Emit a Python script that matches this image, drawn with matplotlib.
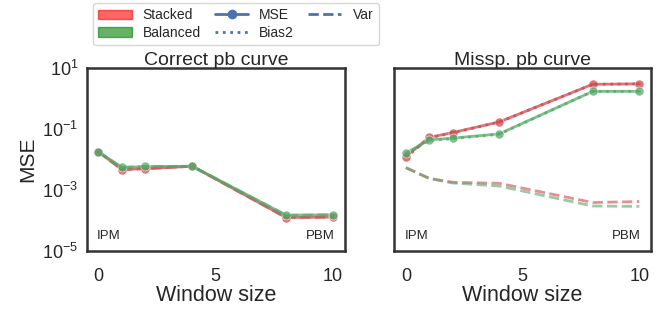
import matplotlib
matplotlib.use('Agg')
import matplotlib.pyplot as plt
import seaborn as sns
from matplotlib.patches import Patch
from matplotlib.lines import Line2D

window = [0, 1, 2, 4, 8, 10]

# correct pb curve
corr_mse_stacked = [0.0178, 0.0047, 0.0050, 0.0060, 1.26e-4, 1.30e-4]
corr_mse_balanced = [0.0178, 0.0055, 0.0059, 0.0060, 1.50e-4, 1.55e-4]
corr_bias_stacked = [1e-7, 1e-7, 1e-7, 1e-7, 1e-7, 1e-7]
corr_bias_balanced = [1e-7, 1e-7, 1e-7, 1e-7, 1e-7, 1e-7]
corr_var_stacked = [0.0177, 0.0047, 0.0050, 0.0060, 1.25e-4, 1.29e-4]
corr_var_balanced = [0.0177, 0.0055, 0.0059, 0.0060, 1.49e-4, 1.54e-4]

# misspecified pb curve
miss_mse_stacked = [0.0125, 0.053, 0.076, 0.17, 2.9, 3.0]
miss_mse_balanced = [0.016, 0.044, 0.050, 0.069, 1.7, 1.7]
miss_bias_stacked = [0.0115, 0.051, 0.074, 0.168, 2.9, 3.0]
miss_bias_balanced = [0.0150, 0.042, 0.048, 0.067, 1.7, 1.7]
miss_var_stacked = [0.0054, 0.0024, 0.0018, 0.00166, 3.9e-4, 4.2e-4]
miss_var_balanced = [0.0054, 0.0024, 0.0017, 0.00135, 3.0e-4, 2.9e-4]

sns.set_theme(style='white')
plt.rcParams['font.family'] = ['Liberation Sans', 'DejaVu Sans']

red = '#d0474e'
green = '#55a868'

fig = plt.figure(figsize=(6.67, 3.1), dpi=100)
ax1 = fig.add_axes([0.130, 0.190, 0.387, 0.591])
ax2 = fig.add_axes([0.591, 0.190, 0.385, 0.591], sharey=ax1)


def plot_panel(ax, mse, bias, var, title):
    for (m, b, v), c in zip(zip(mse, bias, var), [red, green]):
        ax.plot(window, m, '-o', color=c, alpha=0.75, lw=2, markersize=6.5,
                markeredgecolor='white', markeredgewidth=0.5)
        ax.plot(window, b, ':', color=c, alpha=0.75, lw=2)
        ax.plot(window, v, '--', color=c, alpha=0.6, lw=2)
    ax.set_yscale('log')
    ax.set_ylim(1e-5, 1e1)
    ax.set_yticks([1e-5, 1e-3, 1e-1, 1e1])
    ax.minorticks_off()
    ax.set_xlim(-0.5, 10.5)
    ax.set_xticks([0, 5, 10])
    ax.set_title(title, fontsize=14, pad=2)
    ax.set_xlabel('Window size', fontsize=15.5, labelpad=0)
    ax.tick_params(labelsize=13, length=0)
    ax.tick_params(axis='x', pad=12)
    ax.tick_params(axis='y', pad=6)
    ax.text(0.04, 0.05, 'IPM', transform=ax.transAxes, fontsize=9.5,
            ha='left', va='bottom', color='.15')
    ax.text(0.96, 0.05, 'PBM', transform=ax.transAxes, fontsize=9.5,
            ha='right', va='bottom', color='.15')
    for s in ax.spines.values():
        s.set_linewidth(1.8)
        s.set_color('.2')


plot_panel(ax1, [corr_mse_stacked, corr_mse_balanced],
           [corr_bias_stacked, corr_bias_balanced],
           [corr_var_stacked, corr_var_balanced], 'Correct pb curve')
plot_panel(ax2, [miss_mse_stacked, miss_mse_balanced],
           [miss_bias_stacked, miss_bias_balanced],
           [miss_var_stacked, miss_var_balanced], 'Missp. pb curve')
ax1.set_ylabel('MSE', fontsize=15)
plt.setp(ax2.get_yticklabels(), visible=False)

blue = '#4c72b0'
handles = [Patch(facecolor='red', edgecolor='red', alpha=0.6, label='Stacked'),
           Patch(facecolor='green', edgecolor='green', alpha=0.6, label='Balanced'),
           Line2D([], [], color=blue, marker='o', lw=2, label='MSE'),
           Line2D([], [], color=blue, ls=':', lw=2, label='Bias2'),
           Line2D([], [], color=blue, ls='--', lw=2, label='Var')]
fig.legend(handles=handles, loc='upper left', bbox_to_anchor=(0.135, 1.0),
           ncol=3, fontsize=10, frameon=True, handlelength=2.4,
           columnspacing=1.0, borderaxespad=0.2, labelspacing=0.25)

fig.savefig('out.png', dpi=100)
